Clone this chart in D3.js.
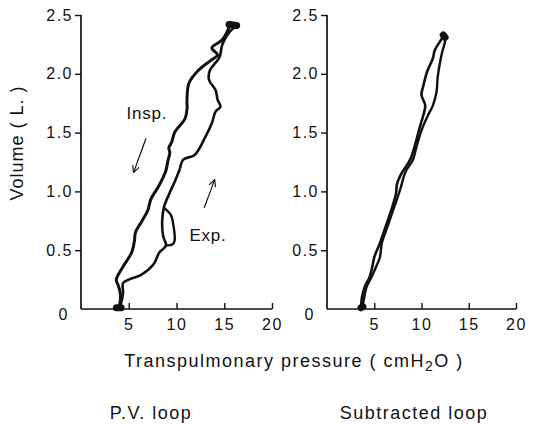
<!DOCTYPE html>
<html>
<head>
<meta charset="utf-8">
<script src="https://cdn.jsdelivr.net/npm/d3@7"></script>
<style>
  body { margin: 0; background: #fff; }
  text { font-family: "Liberation Sans", Arial, sans-serif; fill: #111; }
</style>
</head>
<body>
<div id="chart"></div>
<script>
// pressure (cmH2O), volume (L)
const pvInsp = [[3.9,0],[4.1,0.06],[4.1,0.14],[3.9,0.20],[3.7,0.25],[4.4,0.36],[5.3,0.48],[5.6,0.58],[5.7,0.65],[6.4,0.75],[7.0,0.84],[7.3,0.93],[8.1,1.04],[8.6,1.12],[8.9,1.18],[9.1,1.26],[9.3,1.33],[9.2,1.37],[9.5,1.42],[9.8,1.50],[10.9,1.62],[11.1,1.70],[11.1,1.78],[11.3,1.92],[12.3,2.03],[13.7,2.12],[14.3,2.16],[13.7,2.22],[14.8,2.29],[15.6,2.41]];
const pvExp = [[16.2,2.40],[15.6,2.36],[14.8,2.25],[14.5,2.14],[13.5,2.03],[13.4,1.95],[14.1,1.86],[14.3,1.78],[14.6,1.72],[14.1,1.68],[13.7,1.58],[13.0,1.46],[11.9,1.31],[10.7,1.27],[10.3,1.18],[9.8,1.08],[9.3,0.99],[8.7,0.87],[8.5,0.75],[8.6,0.62],[8.9,0.54],[8.2,0.48],[7.6,0.38],[6.3,0.29],[5.0,0.25],[4.4,0.22],[4.4,0.14],[4.2,0.05],[3.9,0]];
const pvLobe = [[8.7,0.86],[9.4,0.80],[9.7,0.70],[9.8,0.58],[9.6,0.55],[8.9,0.54]];
const pvBlobs = [[[15.5,2.42],[16.3,2.41]], [[3.7,0.01],[4.2,0.01]]];

const subA = [[3.6,0],[3.7,0.1],[4.0,0.19],[4.5,0.27],[4.8,0.36],[5.0,0.44],[5.6,0.56],[6.2,0.70],[6.8,0.84],[7.3,0.98],[7.4,1.06],[7.8,1.14],[8.1,1.18],[8.8,1.27],[9.3,1.39],[9.8,1.54],[10.2,1.65],[10.4,1.73],[10.0,1.82],[10.2,1.90],[10.6,2.02],[11.2,2.13],[11.4,2.20],[12.0,2.28],[12.4,2.33]];
const subB = [[3.7,0],[3.9,0.08],[4.2,0.19],[4.7,0.27],[5.2,0.36],[5.6,0.44],[5.8,0.56],[6.4,0.70],[7.0,0.84],[7.6,0.98],[7.9,1.06],[8.1,1.12],[8.4,1.18],[9.1,1.27],[9.5,1.39],[10.1,1.54],[10.7,1.65],[11.2,1.73],[11.6,1.85],[11.7,1.96],[11.9,2.07],[12.2,2.19],[12.5,2.28],[12.4,2.33]];
const subBlobs = [[[12.3,2.33],[12.5,2.31]], [[3.6,0.01],[3.8,0.02]]];

const xTicks = [5, 10, 15, 20];
const yTicks = [0.5, 1.0, 1.5, 2.0, 2.5];
const notes = [{text: "Insp.", p: 6.9, v: 1.67}, {text: "Exp.", p: 13.3, v: 0.63}];
const arrows = [[[6.8,1.45],[5.5,1.16]], [[12.9,0.86],[14.0,1.10]]];
const panelTitles = ["P.V. loop", "Subtracted loop"];

const W = 536, H = 425;
const svg = d3.select("#chart").append("svg")
  .attr("width", W).attr("height", H)
  .style("background", "#fff");

svg.append("defs").append("marker")
  .attr("id", "arr").attr("viewBox", "0 0 10 10")
  .attr("refX", 9).attr("refY", 5)
  .attr("markerWidth", 7).attr("markerHeight", 7)
  .attr("orient", "auto")
  .append("path").attr("d", "M1,1 L9,5 L1,9")
  .attr("fill", "none").attr("stroke", "#111").attr("stroke-width", 1.3);

const y = d3.scaleLinear().domain([0, 2.5]).range([309, 15]);

function panel(x0, x1, series, blobs, showNotes) {
  const x = d3.scaleLinear().domain([0, 20]).range([x0, x1]);
  const g = svg.append("g");

  const xAxis = g.append("g").attr("transform", `translate(0,${y(0)})`)
    .call(d3.axisBottom(x).tickValues(xTicks).tickSize(-6).tickPadding(10).tickFormat(d3.format("d")));
  const yAxis = g.append("g").attr("transform", `translate(${x(0)},0)`)
    .call(d3.axisLeft(y).tickValues(yTicks).tickSize(6).tickPadding(2).tickFormat(d3.format(".1f")));
  [xAxis, yAxis].forEach(a => {
    a.select(".domain").attr("stroke", "#111").attr("stroke-width", 1.7);
    a.selectAll(".tick line").attr("stroke", "#111").attr("stroke-width", 1.4);
    a.selectAll(".tick text").attr("font-size", 16).attr("letter-spacing", 1.5)
      .style("font-family", "Liberation Sans, Arial, sans-serif").attr("fill", "#111");
  });
  xAxis.select(".domain").attr("d", `M${x(0)},0H${x(20)}`);
  yAxis.select(".domain").attr("d", `M0,${y(0)}V${y(2.5)}`);

  g.append("text").attr("x", x(0) - 18).attr("y", y(0) + 11)
    .attr("text-anchor", "middle").attr("font-size", 16).text("0");

  const line = d3.line().x(d => x(d[0])).y(d => y(d[1])).curve(d3.curveCatmullRom.alpha(0.5));
  series.forEach(s => {
    g.append("path").datum(s.data).attr("d", line)
      .attr("fill", "none").attr("stroke", "#111")
      .attr("stroke-width", s.w).attr("stroke-linejoin", "round").attr("stroke-linecap", "round");
  });
  blobs.forEach(b => {
    g.append("path").datum(b).attr("d", d3.line().x(d => x(d[0])).y(d => y(d[1])))
      .attr("stroke", "#111").attr("stroke-width", 7).attr("stroke-linecap", "round");
  });

  if (showNotes) {
    notes.forEach(n => {
      g.append("text").attr("x", x(n.p)).attr("y", y(n.v)).attr("dy", "0.35em")
        .attr("text-anchor", "middle").attr("font-size", 17).attr("letter-spacing", 0.8).text(n.text);
    });
    arrows.forEach(a => {
      g.append("line")
        .attr("x1", x(a[0][0])).attr("y1", y(a[0][1]))
        .attr("x2", x(a[1][0])).attr("y2", y(a[1][1]))
        .attr("stroke", "#111").attr("stroke-width", 1.2).attr("marker-end", "url(#arr)");
    });
  }
  return x;
}

panel(81, 272, [{data: pvInsp, w: 3}, {data: pvExp, w: 2.6}, {data: pvLobe, w: 2.4}], pvBlobs, true);
panel(327, 516, [{data: subA, w: 2.6}, {data: subB, w: 2.4}], subBlobs, false);

svg.append("text")
  .attr("transform", `translate(23,143) rotate(-90)`)
  .attr("text-anchor", "middle").attr("font-size", 18).attr("letter-spacing", 1)
  .text("Volume ( L. )");

const xl = svg.append("text").attr("x", 294).attr("y", 367)
  .attr("text-anchor", "middle").attr("font-size", 18).attr("letter-spacing", 1.5);
xl.append("tspan").text("Transpulmonary pressure ( cmH");
xl.append("tspan").attr("dy", 4).attr("font-size", 14).text("2");
xl.append("tspan").attr("dy", -4).text("O )");

svg.selectAll(".ptitle").data(panelTitles).join("text")
  .attr("x", (d, i) => i === 0 ? 151 : 414).attr("y", 419)
  .attr("text-anchor", "middle").attr("font-size", 18).attr("letter-spacing", 1.5)
  .text(d => d);
</script>
</body>
</html>
